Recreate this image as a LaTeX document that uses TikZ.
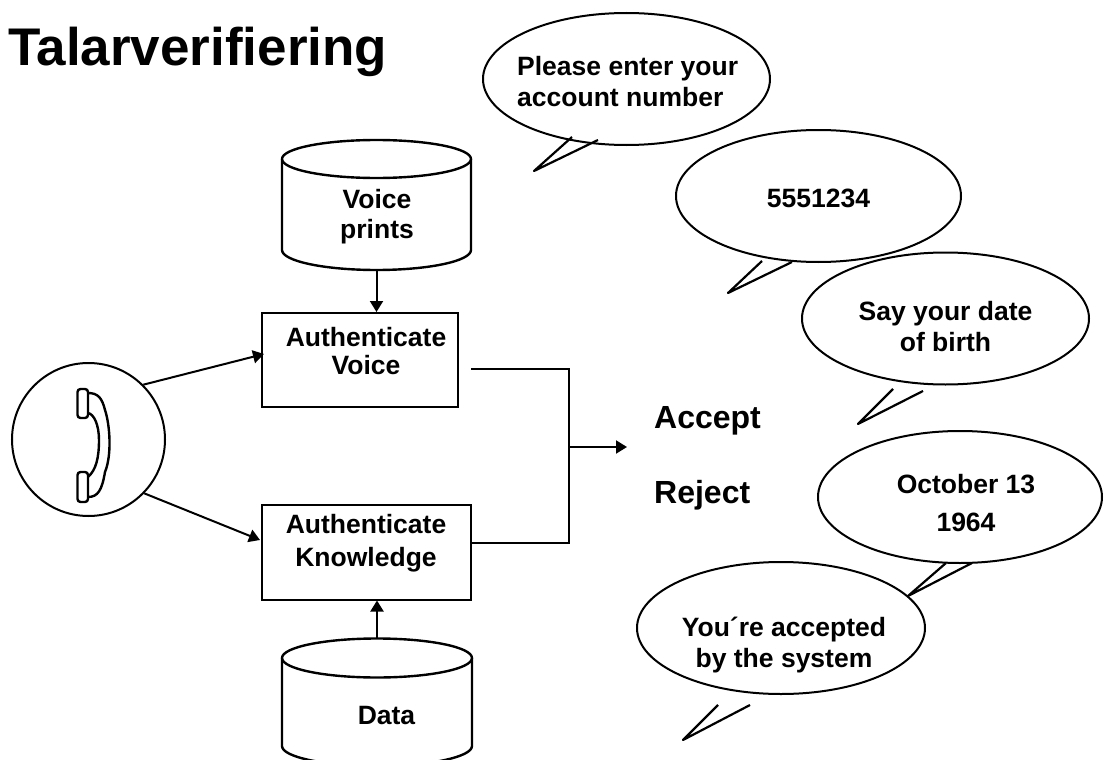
\documentclass[tikz,border=0pt]{standalone}
\usepackage{fontspec}
\setmainfont{Liberation Sans}
\usetikzlibrary{arrows.meta,shapes.geometric}
\tikzset{
  x=1pt,y=-1pt,
  lbl/.style={font=\fontsize{26.5}{31}\selectfont\bfseries,align=center,inner sep=0pt,text=black},
  bubble/.style={draw,ellipse,line width=2pt,minimum width=#1,minimum height=132pt,inner sep=0pt},
  bubble/.default=286pt,
  tail/.style={line width=2.2pt,line join=round},
  boxnode/.style={draw,rectangle,line width=2pt,inner sep=0pt,lbl},
  cylline/.style={line width=2.4pt},
  conn/.style={line width=2pt,-{Triangle[length=11pt,width=13pt]}},
  plainconn/.style={line width=2.4pt},
  decide/.style={lbl,font=\fontsize{32}{36}\selectfont\bfseries,anchor=west}
}
\begin{document}
\begin{tikzpicture}
\useasboundingbox (0,0) rectangle (1104,760);
\clip (0,0) rectangle (1104,760);
\fill[white] (0,0) rectangle (1104,760);

\node[font=\fontsize{53}{56}\selectfont\bfseries,anchor=base west,inner sep=0pt] (title) at (8,66) {Talarverifiering};

% speech bubbles
\node[bubble=287pt] (b1) at (626.5,79) {};
\node[lbl,align=left,anchor=west] (t1) at (517,81.5) {Please enter your\\account number};
\node[bubble=285pt] (b2) at (818.5,196) {};
\node[lbl] (t2) at (818.5,198) {5551234};
\node[bubble=287pt] (b3) at (945.5,318.5) {};
\node[lbl] (t3) at (945.5,326.5) {Say your date\\of birth};
\node[bubble=284pt] (b4) at (960,497) {};
\node[lbl,font=\fontsize{26.5}{38}\selectfont\bfseries] (t4) at (966,503) {October 13\\1964};
\node[bubble=288pt] (b5) at (781,628) {};
\node[lbl] (t5) at (784,645.5) {You´re accepted\\by the system};

\draw[tail] (572,137) -- (534,171) -- (598,140);
\draw[tail] (762,261) -- (728,293) -- (792,262);
\draw[tail] (893,389) -- (858,424) -- (923,391);
\draw[tail] (946,563) -- (908,596) -- (972,563);
\draw[tail] (718,705) -- (683,740) -- (750,705);

% boxes
\node[boxnode,minimum width=196pt,minimum height=94pt] (voice) at (360,360) {};
\node[lbl,font=\fontsize{26.5}{28}\selectfont\bfseries] (tv) at (366,351) {Authenticate\\Voice};
\node[boxnode,minimum width=209pt,minimum height=95pt] (know) at (366.5,552) {};
\node[lbl,font=\fontsize{26.5}{33}\selectfont\bfseries] (tk) at (366,543.5) {Authenticate\\Knowledge};

% cylinders
\node[lbl,font=\fontsize{26.5}{30}\selectfont\bfseries] (prints) at (377,217) {Voice\\prints};
\draw[cylline] (282,159) arc[start angle=180,end angle=0,x radius=94.5,y radius=19]
  arc[start angle=0,end angle=-180,x radius=94.5,y radius=19];
\draw[cylline] (282,159) -- (282,250) arc[start angle=180,end angle=0,x radius=94.5,y radius=20] -- (471,159);
\coordinate (printstop) at (376.5,270);

\node[lbl] (data) at (386.5,716) {Data};
\draw[cylline] (282,658) arc[start angle=180,end angle=0,x radius=95,y radius=19.5]
  arc[start angle=0,end angle=-180,x radius=95,y radius=19.5];
\draw[cylline] (282,658) -- (282,746) arc[start angle=180,end angle=0,x radius=95,y radius=20] -- (472,658);
\coordinate (datatop) at (377,638);

% phone
\node[draw,circle,line width=2pt,minimum size=153pt,inner sep=0pt] (phone) at (88.5,439.5) {};
\begin{scope}[line width=2.4pt,line join=round]
\draw[rounded corners=3pt] (77.5,389) rectangle (88,418);
\draw[rounded corners=3pt] (77.5,472) rectangle (88,502);
\draw (88,393) .. controls (98,393) and (102,398) .. (105,410) .. controls (110,425) and (112,455) .. (105,472) .. controls (102,490) and (98,497) .. (88,497);
\draw (88,413) .. controls (94,414) and (99,425) .. (99,440) .. controls (99,458) and (96,470) .. (88,477);
\end{scope}

% connectors
\coordinate (voicein) at (264,354);
\coordinate (knowin) at (260,540);
\coordinate (merge) at (569,447);
\coordinate (out) at (627,447);
\draw[conn] (phone.45.5) -- (voicein);
\draw[conn] (phone.-44.5) -- (knowin);
\draw[conn] (printstop) -- (voice.north -| printstop);
\draw[conn] (datatop) -- (know.south -| datatop);
\coordinate (voiceout) at (471,369);
\coordinate (knowout) at (471,543);
\draw[plainconn] (voiceout) -| (merge) |- (knowout);
\draw[conn] (merge) -- (out);

\node[decide] (accept) at (654,421) {Accept};
\node[decide] (reject) at (654,495) {Reject};
\end{tikzpicture}
\end{document}
